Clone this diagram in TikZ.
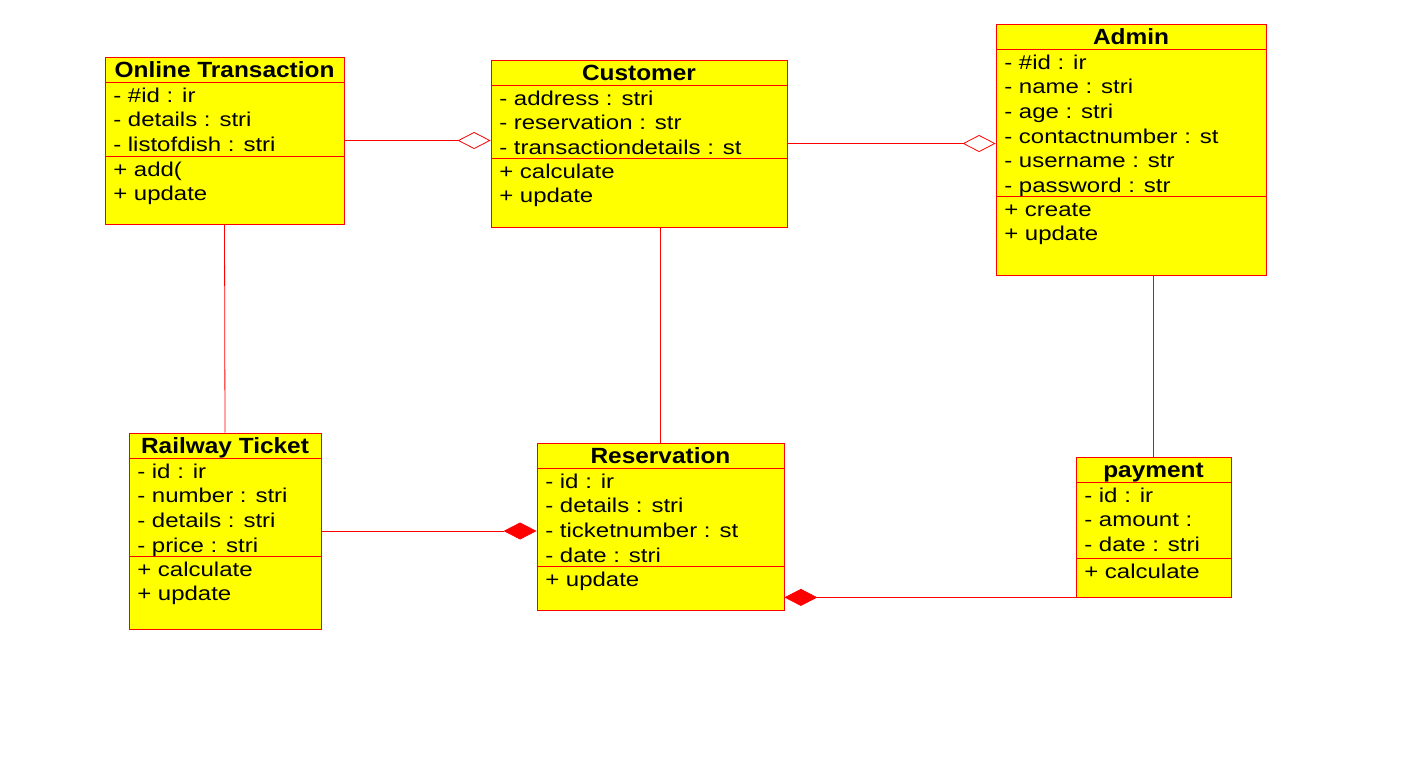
\documentclass[tikz,border=0pt]{standalone}
\usepackage{fontspec}
\setmainfont{Liberation Sans}
\newfontfamily\attrfont[FakeStretch=1.2]{Liberation Sans}
\newfontfamily\titlefont[FakeStretch=1.11]{Liberation Sans}
\usetikzlibrary{arrows.meta,fit}
\definecolor{umlred}{RGB}{255,0,0}
\definecolor{umlyellow}{RGB}{255,255,0}
\tikzset{
  classbox/.style={draw=umlred,fill=umlyellow,inner sep=0pt,line width=0.6pt},
  classline/.style={umlred,line width=0.6pt},
  titletext/.style={anchor=base,inner sep=0pt,font=\titlefont\bfseries\fontsize{16.5}{18.4}\selectfont},
  membertext/.style={anchor=north west,inner sep=0pt,align=left,font=\attrfont\fontsize{15}{18.4}\selectfont},
  assoc/.style={umlred,line width=0.6pt},
  aggr/.style={assoc,-{Diamond[open,length=24.75pt,width=12.75pt]}},
  comp/.style={assoc,-{Diamond[length=24.75pt,width=12.75pt]}}
}
\begin{document}
\begin{tikzpicture}[x=0.75pt,y=-0.75pt]
\useasboundingbox (0,0) rectangle (1411,758);
% name, x1, y1, x2, y2, operations line, title, attributes, operations
\def\umlclass#1#2#3#4#5#6#7#8#9{
  \node[classbox,fit={(#2,#3) (#4,#5)}] (#1) {};
  \draw[classline] (#2,#3+25) -- (#4,#3+25);
  \draw[classline] (#2,#6) -- (#4,#6);
  \node[titletext] at ({(#2+#4)/2},#3+20) {#7};
  \node[membertext] at (#2+8,#3+28) {\strut#8};
  \node[membertext] at (#2+8,#6+3) {\strut#9};
}
\umlclass{ot}{105}{57}{344}{224}{156}{Online Transaction}
  {- \#id : ir\\- details : stri\\- listofdish : stri}{+ add(\\+ update}
\umlclass{cust}{491}{60}{787}{227}{158}{Customer}
  {- address : stri\\- reservation : str\\- transactiondetails : st}{+ calculate\\+ update}
\umlclass{adm}{996}{24}{1266}{275}{196}{Admin}
  {- \#id : ir\\- name : stri\\- age : stri\\- contactnumber : st\\- username : str\\- password : str}
  {+ create\\+ update}
\umlclass{rt}{129}{433}{321}{629}{556}{Railway Ticket}
  {- id : ir\\- number : stri\\- details : stri\\- price : stri}{+ calculate\\+ update}
\umlclass{res}{537}{443}{784}{610}{566}{Reservation}
  {- id : ir\\- details : stri\\- ticketnumber : st\\- date : stri}{+ update}
\umlclass{pay}{1076}{457}{1231}{597}{558}{payment}
  {- id : ir\\- amount :\\- date : stri}{+ calculate}
% associations
\draw[aggr] (ot.east) -- (ot.east -| cust.west);
\draw[aggr] (cust.east) -- (cust.east -| adm.west);
\draw[assoc] (ot.south) -- (rt.north);
\draw[assoc] (res.north) -- (res.north |- cust.south);
\draw[assoc] (pay.north) -- (pay.north |- adm.south);
\draw[comp] (rt.east) -- (rt.east -| res.west);
\draw[comp] (pay.south west) -- (pay.south west -| res.east);
\end{tikzpicture}
\end{document}
